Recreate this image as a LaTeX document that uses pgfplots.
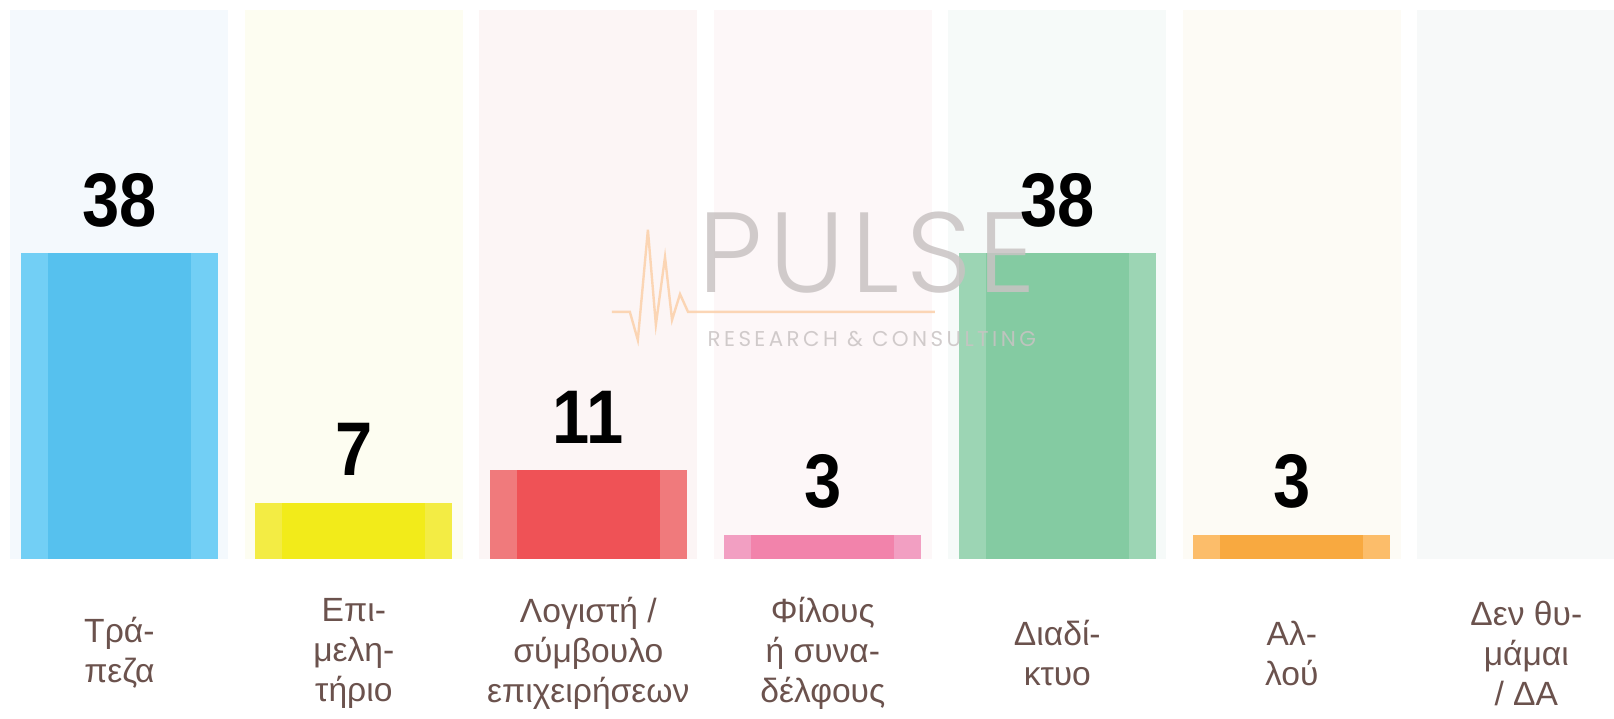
\documentclass[border=0pt]{standalone}
\usepackage{pgfplots}
\pgfplotsset{compat=1.18}
\usepackage{fontspec}
\setmainfont{Liberation Sans}
\newfontfamily\valfont[FakeStretch=0.88]{Liberation Sans}
\newfontfamily\wmfont[UprightFont={* Light},LetterSpace=6]{Poppins}
\newfontfamily\wmsmall[LetterSpace=16]{Poppins}

\definecolor{bgA}{HTML}{F4F9FD}\definecolor{oA}{HTML}{72CFF5}\definecolor{iA}{HTML}{56C1EE}
\definecolor{bgB}{HTML}{FDFDF1}\definecolor{oB}{HTML}{F3EC44}\definecolor{iB}{HTML}{F2EB1A}
\definecolor{bgC}{HTML}{FCF5F5}\definecolor{oC}{HTML}{F07A7C}\definecolor{iC}{HTML}{EF5256}
\definecolor{bgD}{HTML}{FDF7F8}\definecolor{oD}{HTML}{F29FC2}\definecolor{iD}{HTML}{F283AB}
\definecolor{bgE}{HTML}{F6FAF9}\definecolor{oE}{HTML}{9CD5B4}\definecolor{iE}{HTML}{84CBA2}
\definecolor{bgF}{HTML}{FDFBF5}\definecolor{oF}{HTML}{FCBD6A}\definecolor{iF}{HTML}{F8A940}
\definecolor{bgG}{HTML}{F7F9F9}
\definecolor{labc}{HTML}{6B524D}
\definecolor{wmgray}{HTML}{C9C3C3}
\definecolor{wmorange}{HTML}{FBD2AE}

\newcommand{\bgbar}[2]{\addplot[ybar, bar width=0.93, bar shift=0pt, fill=#2, draw=none] coordinates {(#1,68.2)};}
\newcommand{\outbar}[3]{\addplot[ybar, bar width=0.84, bar shift=0pt, fill=#3, draw=none] coordinates {(#1,#2)};}
\newcommand{\inbar}[3]{\addplot[ybar, bar width=0.61, bar shift=0pt, fill=#3, draw=none,
  nodes near coords={\pgfmathprintnumber[assume math mode=true]{\pgfplotspointmeta}},
  nodes near coords style={font=\valfont\bfseries\fontsize{38}{38}\selectfont, text=black, anchor=center, yshift=26.5pt}] coordinates {(#1,#2)};}
\newcommand{\catlab}[2]{\node[font=\fontsize{16.8}{20}\selectfont, text=labc, align=center, anchor=center] at (axis cs:#1,-11.7) {#2};}

\begin{document}
\begin{tikzpicture}
\begin{axis}[
  scale only axis, width=807pt, height=359.5pt,
  xmin=-0.509, xmax=6.374, ymin=-19.88, ymax=69.44,
  hide axis, clip=true,
]
\path (rel axis cs:0,0) rectangle (rel axis cs:1,1);
% background columns
\bgbar{0}{bgA}\bgbar{1}{bgB}\bgbar{2}{bgC}\bgbar{3}{bgD}\bgbar{4}{bgE}\bgbar{5}{bgF}\bgbar{6}{bgG}
% outer (lighter) bars
\outbar{0}{38}{oA}\outbar{1}{7}{oB}\outbar{2}{11}{oC}\outbar{3}{3}{oD}\outbar{4}{38}{oE}\outbar{5}{3}{oF}
% inner bars with values
\inbar{0}{38}{iA}\inbar{1}{7}{iB}\inbar{2}{11}{iC}\inbar{3}{3}{iD}\inbar{4}{38}{iE}\inbar{5}{3}{iF}
% watermark
\node[font=\wmfont\fontsize{57}{57}\selectfont, text=wmgray, opacity=0.85, anchor=center] at (axis cs:3.19,38.1) {PULSE};
\node[font=\wmsmall\fontsize{10.7}{10.7}\selectfont, text=wmgray, opacity=0.85, anchor=center] at (axis cs:3.209,27.3) {RESEARCH \& CONSULTING};
\draw[wmorange, line width=1.2pt, opacity=0.9] (axis cs:2.100,30.7) -- (axis cs:2.177,30.7) -- (axis cs:2.211,27.2) -- (axis cs:2.254,40.9) -- (axis cs:2.288,29.1) -- (axis cs:2.327,37.5) -- (axis cs:2.357,29.7) -- (axis cs:2.391,32.9) -- (axis cs:2.425,30.7) -- (axis cs:3.478,30.7);
% category labels
\catlab{0}{Τρά-\\πεζα}
\catlab{1}{Επι-\\μελη-\\τήριο}
\catlab{2}{Λογιστή /\\σύμβουλο\\επιχειρήσεων}
\catlab{3}{Φίλους\\ή συνα-\\δέλφους}
\catlab{4}{Διαδί-\\κτυο}
\catlab{5}{Αλ-\\λού}
\catlab{6}{Δεν θυ-\\μάμαι\\/ ΔΑ}
\end{axis}
\end{tikzpicture}
\end{document}
